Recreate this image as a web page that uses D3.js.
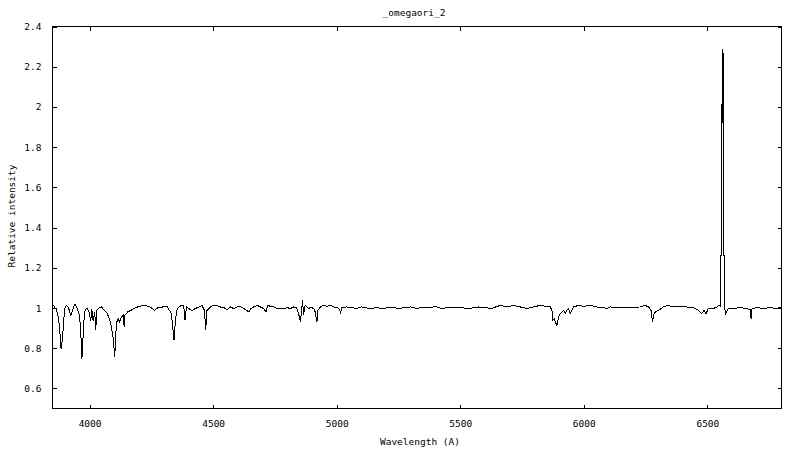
<!DOCTYPE html>
<html>
<head>
<meta charset="utf-8">
<script src="https://cdn.jsdelivr.net/npm/d3@7"></script>
<style>
  html, body { margin: 0; padding: 0; background: #fff; }
  svg { display: block; }
  text { font-family: "DejaVu Sans Mono", "Liberation Mono", monospace; font-size: 9.5px; fill: #000; }
</style>
</head>
<body>
<svg id="chart" width="800" height="450"></svg>
<script>
const chartTitle = "_omegaori_2";
const xLabel = "Wavelength (A)";
const yLabel = "Relative intensity";

const xTicks = [4000, 4500, 5000, 5500, 6000, 6500];
const yTicks = [0.6, 0.8, 1, 1.2, 1.4, 1.6, 1.8, 2, 2.2, 2.4];
const yTickLabels = ["0.6", "0.8", "1", "1.2", "1.4", "1.6", "1.8", "2", "2.2", "2.4"];

const wavelength = [
  3850, 3855, 3861, 3866, 3872, 3877, 3881, 3884, 3887, 3889,
  3893, 3897, 3900, 3907, 3915, 3920, 3924, 3929, 3934, 3940,
  3946, 3951, 3957, 3961, 3965, 3968, 3969, 3972, 3975, 3979,
  3982, 3989, 3998, 4005, 4009, 4014, 4021, 4025, 4029, 4039,
  4048, 4059, 4072, 4086, 4097, 4100, 4102, 4105, 4110, 4116,
  4122, 4129, 4136, 4140, 4143, 4154, 4167, 4180, 4200, 4220,
  4240, 4254, 4263, 4275, 4296, 4315, 4331, 4338, 4342, 4345,
  4347, 4355, 4368, 4381, 4386, 4392, 4401, 4415, 4428, 4442,
  4455, 4465, 4470, 4475, 4489, 4502, 4516, 4529, 4543, 4556,
  4570, 4583, 4597, 4610, 4624, 4637, 4644, 4653, 4664, 4678,
  4691, 4705, 4714, 4721, 4732, 4745, 4759, 4772, 4786, 4799,
  4813, 4826, 4837, 4846, 4853, 4858, 4862, 4866, 4872, 4880,
  4887, 4893, 4907, 4913, 4920, 4924, 4934, 4947, 4961, 4974,
  4990, 5005, 5012, 5016, 5020, 5040, 5060, 5080, 5100, 5120,
  5140, 5160, 5180, 5200, 5225, 5250, 5275, 5300, 5325, 5350,
  5375, 5400, 5425, 5450, 5475, 5500, 5525, 5550, 5575, 5600,
  5625, 5662, 5689, 5716, 5743, 5770, 5796, 5824, 5864, 5871,
  5875, 5880, 5885, 5891, 5898, 5904, 5911, 5918, 5925, 5931,
  5938, 5945, 5952, 5958, 5979, 5999, 6026, 6053, 6080, 6093,
  6107, 6147, 6187, 6228, 6248, 6262, 6272, 6278, 6282, 6289,
  6302, 6322, 6342, 6363, 6390, 6417, 6444, 6464, 6477, 6487,
  6495, 6504, 6524, 6538, 6546, 6552, 6553, 6558, 6559, 6560,
  6561, 6562, 6563, 6564, 6565, 6566, 6569, 6570, 6574, 6585,
  6605, 6632, 6659, 6673, 6677, 6681, 6700, 6727, 6754, 6780,
  6794, 6800
];

const intensity = [
  1.018, 1.010, 1.000, 0.990, 0.960, 0.920, 0.860, 0.800, 0.797, 0.840,
  0.889, 0.960, 1.000, 1.013, 1.000, 0.980, 0.963, 0.980, 1.000, 1.018,
  1.010, 0.997, 0.970, 0.938, 0.860, 0.780, 0.748, 0.800, 0.905, 0.960,
  0.988, 1.000, 0.980, 0.938, 0.997, 0.938, 0.980, 0.889, 0.988, 1.000,
  1.005, 0.990, 0.972, 0.922, 0.839, 0.780, 0.756, 0.855, 0.930, 0.947,
  0.930, 0.955, 0.963, 0.905, 0.963, 0.980, 0.988, 0.997, 1.008, 1.013,
  1.008, 0.997, 0.988, 1.000, 1.005, 1.005, 0.972, 0.889, 0.839, 0.890,
  0.938, 0.997, 1.010, 1.013, 0.938, 1.005, 0.997, 0.988, 0.997, 1.005,
  1.013, 0.988, 0.889, 0.988, 1.005, 1.013, 1.013, 1.005, 1.002, 0.992,
  1.005, 0.997, 1.005, 1.008, 0.997, 0.988, 0.980, 0.997, 1.005, 1.013,
  1.005, 0.997, 0.980, 1.013, 1.008, 1.005, 0.997, 0.997, 0.997, 1.002,
  0.997, 1.005, 1.002, 0.972, 0.930, 0.988, 1.038, 0.963, 1.013, 1.005,
  0.997, 1.005, 0.997, 0.980, 0.930, 0.988, 1.005, 1.013, 1.008, 1.013,
  1.005, 1.000, 0.990, 0.972, 1.000, 1.005, 1.002, 0.997, 1.005, 1.000,
  0.997, 1.003, 0.998, 1.000, 1.005, 0.997, 1.002, 1.005, 0.998, 1.003,
  1.000, 1.008, 0.997, 1.003, 1.000, 1.005, 0.997, 1.000, 1.005, 1.002,
  0.997, 1.013, 1.005, 1.013, 1.005, 0.997, 1.005, 1.013, 1.005, 0.988,
  0.938, 0.947, 0.930, 0.914, 0.955, 0.972, 0.980, 0.988, 0.972, 0.988,
  0.997, 0.972, 0.988, 1.005, 1.013, 1.008, 1.013, 1.005, 1.002, 0.997,
  1.005, 1.002, 1.002, 1.005, 1.013, 1.005, 0.988, 0.930, 0.963, 0.980,
  0.988, 1.005, 1.013, 1.005, 1.008, 1.005, 1.002, 0.988, 0.972, 0.988,
  0.972, 0.997, 0.997, 1.005, 1.013, 1.010, 1.260, 1.260, 1.900, 2.290,
  1.950, 2.280, 1.920, 2.270, 2.250, 1.260, 1.260, 1.000, 0.972, 0.997,
  0.997, 1.002, 0.997, 0.992, 0.947, 0.997, 1.002, 0.997, 1.002, 0.997,
  1.005, 1.000
];

(function () {
  const plotL = 52.5, plotR = 781.5, plotT = 26.5, plotB = 408.5;
  const tickLen = 4;

  const svg = d3.select("#chart");

  const x = d3.scaleLinear().domain([3850, 6800]).range([plotL, plotR]);
  const y = d3.scaleLinear().domain([0.5, 2.4]).range([plotB, plotT]);

  // frame
  svg.append("rect")
    .attr("x", plotL).attr("y", plotT)
    .attr("width", plotR - plotL).attr("height", plotB - plotT)
    .attr("fill", "none").attr("stroke", "#000").attr("stroke-width", 1)
    .attr("shape-rendering", "crispEdges");

  const xAxisB = d3.axisBottom(x).tickValues(xTicks).tickSize(-tickLen).tickPadding(12).tickFormat(d3.format("d"));
  const xAxisT = d3.axisTop(x).tickValues(xTicks).tickSize(-tickLen).tickFormat("");
  const yAxisL = d3.axisLeft(y).tickValues(yTicks).tickSize(-tickLen).tickPadding(11)
    .tickFormat((d, i) => yTickLabels[i]);
  const yAxisR = d3.axisRight(y).tickValues(yTicks).tickSize(-tickLen).tickFormat("");

  function style(g) {
    g.select(".domain").remove();
    g.selectAll("line").attr("stroke", "#000").attr("shape-rendering", "crispEdges");
    g.selectAll("text").attr("fill", "#000");
    g.attr("font-family", null).attr("font-size", null);
  }

  svg.append("g").attr("transform", `translate(0,${plotB})`).call(xAxisB).call(style);
  svg.append("g").attr("transform", `translate(0,${plotT})`).call(xAxisT).call(style);
  svg.append("g").attr("transform", `translate(${plotL},0)`).call(yAxisL).call(style);
  svg.append("g").attr("transform", `translate(${plotR},0)`).call(yAxisR).call(style);

  const pts = wavelength.map((w, i) => [w, intensity[i]]);
  const line = d3.line().x(d => x(d[0])).y(d => y(d[1]));
  svg.append("path")
    .datum(pts)
    .attr("d", line)
    .attr("fill", "none")
    .attr("stroke", "#000")
    .attr("stroke-width", 1)
    .attr("shape-rendering", "crispEdges");

  svg.append("text").attr("x", 414).attr("y", 16).attr("text-anchor", "middle").text(chartTitle);
  svg.append("text").attr("x", 420).attr("y", 445).attr("text-anchor", "middle").text(xLabel);
  svg.append("text")
    .attr("transform", "translate(15,216) rotate(-90)")
    .attr("text-anchor", "middle").text(yLabel);
})();
</script>
</body>
</html>
